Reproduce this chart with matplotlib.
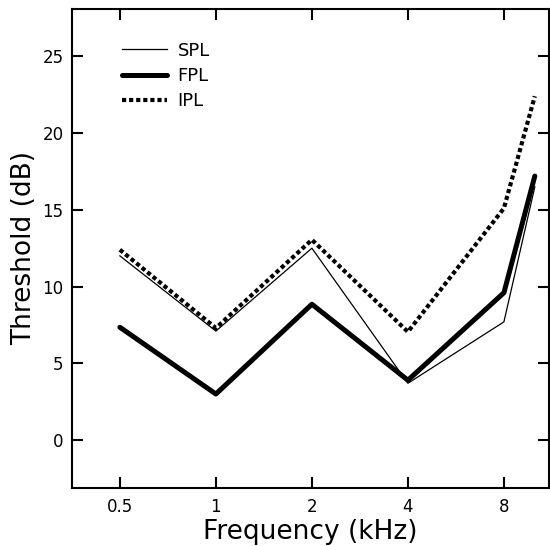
import numpy as np
import matplotlib
matplotlib.use("Agg")
import matplotlib.pyplot as plt
from matplotlib.ticker import FixedLocator, NullLocator

# frequencies (kHz) and thresholds (dB)
freq = [0.5, 1, 2, 4, 8, 10]
spl = [12.0, 7.1, 12.5, 3.7, 7.7, 16.5]
fpl = [7.35, 3.0, 8.85, 3.9, 9.6, 17.2]
ipl = [12.4, 7.3, 13.05, 7.05, 15.1, 22.4]

xticks = [0.5, 1, 2, 4, 8]
xticklabels = ["0.5", "1", "2", "4", "8"]
yticks = [0, 5, 10, 15, 20, 25]

fig = plt.figure(figsize=(5.5, 5.46), dpi=100)
ax = fig.add_axes([0.131, 0.106, 0.867, 0.878])

ax.plot(freq, spl, color="black", lw=0.9, label="SPL")
ax.plot(freq, fpl, color="black", lw=3.6, solid_capstyle="round",
        solid_joinstyle="round", label="FPL")
ax.plot(freq, ipl, color="black", lw=3.0, linestyle=(0, (1.0, 0.7)),
        dash_capstyle="butt", label="IPL")

ax.set_xscale("log", base=2)
ax.set_xlim(0.354, 11.07)
ax.set_ylim(-3.13, 28.1)
ax.xaxis.set_major_locator(FixedLocator(xticks))
ax.xaxis.set_minor_locator(NullLocator())
ax.set_xticklabels(xticklabels)
ax.set_yticks(yticks)

for s in ax.spines.values():
    s.set_linewidth(1.5)
ax.tick_params(direction="in", length=8, width=1.5, top=True, right=True,
               labelsize=12)
ax.tick_params(axis="x", pad=7)
ax.tick_params(axis="y", pad=6)

ax.set_xlabel("Frequency (kHz)", fontsize=19, labelpad=2)
ax.set_ylabel("Threshold (dB)", fontsize=19, labelpad=4)

leg = ax.legend(loc="upper left", bbox_to_anchor=(0.07, 0.965), frameon=False,
                fontsize=13, handlelength=2.5, handletextpad=0.6,
                labelspacing=0.4)

fig.savefig("out.png", dpi=100)
